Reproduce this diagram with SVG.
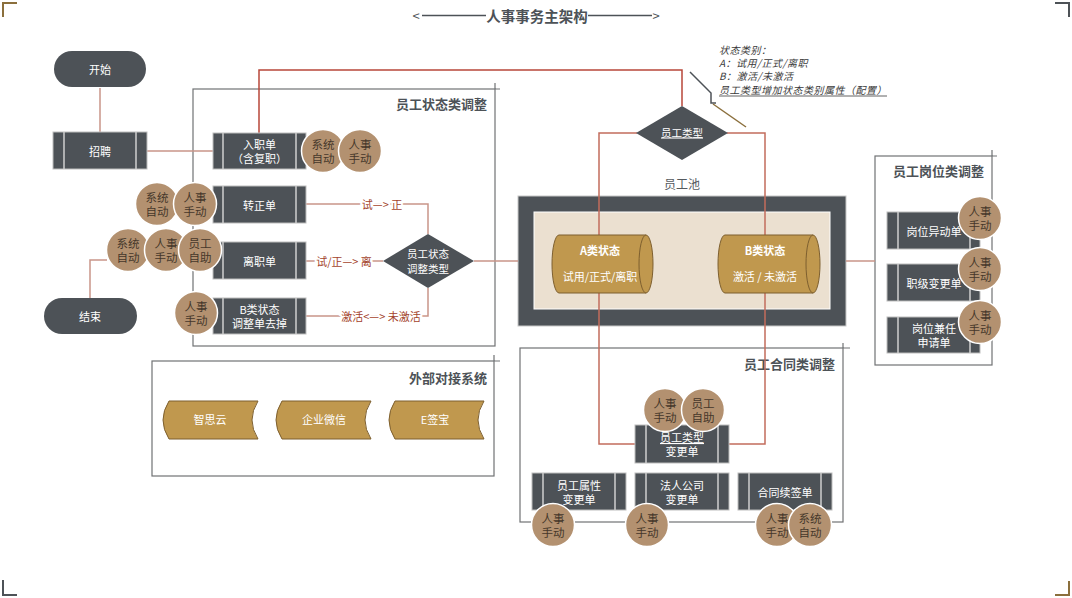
<svg xmlns="http://www.w3.org/2000/svg" width="1072" height="598" viewBox="0 0 1072 598">
  <defs>
    <style>
      text { font-family: "Noto Sans CJK SC", "Liberation Sans", sans-serif; }
      .frame { fill: none; stroke: #707274; stroke-width: 1.2; }
      .gtitle { font-size: 13px; font-weight: bold; fill: #4d5257; text-anchor: end; }
      .box rect { fill: #4d5257; stroke: #bdbdbd; stroke-width: 1; }
      .box line { stroke: #c8c8c8; stroke-width: 1.6; }
      .box text, .dia text, .pill text { font-size: 11px; fill: #ffffff; text-anchor: middle; dominant-baseline: central; }
      .dia text { font-size: 10.5px; }
      .pill rect, .dia polygon { fill: #4d5257; }
      .tag circle { fill: #b39170; stroke: #ffffff; stroke-width: 1.5; }
      .tag text { font-size: 11.5px; fill: #45372a; text-anchor: middle; dominant-baseline: central; }
      .conn { fill: none; stroke: #c99589; stroke-width: 1.5; }
      .conn-red { fill: none; stroke: #b8473a; stroke-width: 1.5; }
      .conn-mid { fill: none; stroke: #c26c5c; stroke-width: 1.5; }
      .elabel { font-size: 11px; fill: #a3432c; text-anchor: middle; dominant-baseline: central; paint-order: stroke; stroke: #ffffff; stroke-width: 4px; }
      .cyl path { fill: #c0984e; stroke: #7d5f2f; stroke-width: 1; }
      .cyl text { fill: #ffffff; text-anchor: middle; dominant-baseline: central; font-size: 11px; }
      .ext path { fill: #c0984e; stroke: #7d5f2f; stroke-width: 1; }
      .ext text { fill: #ffffff; text-anchor: middle; dominant-baseline: central; font-size: 11px; }
      .note { font-size: 10px; font-style: italic; fill: #3a3a3a; letter-spacing: 0.5px; }
    </style>
  </defs>

  <rect width="1072" height="598" fill="#ffffff"/>

  <!-- corner marks -->
  <g fill="none" stroke-width="2">
    <path d="M3 17 V3 H17" stroke="#8b6f3c"/>
    <path d="M1055 3 H1069 V17" stroke="#4d5257"/>
    <path d="M3 580 V595 H17" stroke="#4d5257"/>
    <path d="M1055 595 H1069 V581" stroke="#8b6f3c"/>
  </g>

  <!-- title -->
  <g id="title" fill="#4d5257">
    <text x="416" y="15" font-size="13" text-anchor="middle" dominant-baseline="central">&lt;</text>
    <line x1="422" y1="15.5" x2="486" y2="15.5" stroke="#4d5257" stroke-width="1.6"/>
    <text x="537" y="15" font-size="14.5" font-weight="bold" text-anchor="middle" dominant-baseline="central">人事事务主架构</text>
    <line x1="588" y1="15.5" x2="652" y2="15.5" stroke="#4d5257" stroke-width="1.6"/>
    <text x="656" y="15" font-size="13" text-anchor="middle" dominant-baseline="central">&gt;</text>
  </g>

  <!-- group frames -->
  <g id="grp-status">
    <rect class="frame" x="193" y="89" width="302" height="257"/>
    <path class="frame" d="M495 89 H500 M495 89 V83"/>
    <text class="gtitle" x="487" y="103" dominant-baseline="central">员工状态类调整</text>
  </g>
  <g id="grp-position">
    <rect class="frame" x="875" y="156" width="117" height="209"/>
    <path class="frame" d="M992 156 H997 M992 156 V150"/>
    <text class="gtitle" x="984" y="170" dominant-baseline="central">员工岗位类调整</text>
  </g>
  <g id="grp-external">
    <rect class="frame" x="152" y="361" width="342" height="115"/>
    <path class="frame" d="M494 361 H500 M494 361 V355"/>
    <text class="gtitle" x="487" y="377" dominant-baseline="central">外部对接系统</text>
  </g>
  <g id="grp-contract">
    <rect class="frame" x="520" y="348" width="323" height="174"/>
    <path class="frame" d="M843 348 H850 M843 348 V343"/>
    <text class="gtitle" x="835" y="363" dominant-baseline="central">员工合同类调整</text>
  </g>

  <!-- employee pool frame -->
  <g id="pool">
    <text x="682" y="183" font-size="12" fill="#555a5e" text-anchor="middle" dominant-baseline="central">员工池</text>
    <rect x="518" y="196" width="328" height="130" fill="#4d5257" stroke="#c8c8c8" stroke-width="1"/>
    <rect x="534" y="212" width="296" height="97" fill="#ebe0d0" stroke="#ffffff" stroke-width="1"/>
  </g>

  <!-- annotation -->
  <g id="note">
    <text class="note" x="719" y="54">状态类别：</text>
    <text class="note" x="719" y="67">A：试用/正式/离职</text>
    <text class="note" x="719" y="80">B：激活/未激活</text>
    <text class="note" x="719" y="94">员工类型增加状态类别属性（配置）</text>
    <line x1="719" y1="96" x2="887" y2="96" stroke="#3a3a3a" stroke-width="0.8"/>
    <path d="M690 72 L711 93 V103 H716" fill="none" stroke="#4d5257" stroke-width="1.5"/>
    <path d="M713 104 L746 127" fill="none" stroke="#8b6f3c" stroke-width="1.5"/>
  </g>

  <!-- connectors -->
  <g id="connectors">
    <path class="conn" d="M100 88 V132"/>
    <path class="conn" d="M147 151 H213"/>
    <path class="conn-red" d="M259 133 V70 H682 V106"/>
    <path class="conn-mid" d="M637 133 H599 V444 H635"/>
    <path class="conn-mid" d="M727 133 H765 V444 H729"/>
    <path class="conn" d="M306 204 H428 V234"/>
    <path class="conn" d="M306 261 H383"/>
    <path class="conn" d="M306 316 H428 V288"/>
    <path class="conn" d="M474 261 H518"/>
    <path class="conn" d="M846 261 H875"/>
    <path class="conn" d="M90 298 V260 H107"/>
    <text class="elabel" x="382" y="204">试—&gt; 正</text>
    <text class="elabel" x="344" y="261">试/正—&gt; 离</text>
    <text class="elabel" x="381" y="316">激活&lt;—&gt; 未激活</text>
  </g>

  <!-- terminators -->
  <g id="start" class="pill">
    <rect x="54" y="51" width="92" height="36" rx="18"/>
    <text x="100" y="69">开始</text>
  </g>
  <g id="end" class="pill">
    <rect x="44" y="298" width="93" height="36" rx="18"/>
    <text x="90" y="316">结束</text>
  </g>

  <!-- process boxes -->
  <g id="recruit" class="box">
    <rect x="53" y="132" width="94" height="37"/>
    <line x1="64" y1="132" x2="64" y2="169"/><line x1="136" y1="132" x2="136" y2="169"/>
    <text x="100" y="151">招聘</text>
  </g>
  <g id="onboard" class="box">
    <rect x="213" y="133" width="93" height="36"/>
    <line x1="223" y1="133" x2="223" y2="169"/><line x1="296" y1="133" x2="296" y2="169"/>
    <text x="259.5" y="144">入职单</text>
    <text x="259.5" y="158">（含复职）</text>
  </g>
  <g id="regular" class="box">
    <rect x="213" y="186" width="93" height="37"/>
    <line x1="223" y1="186" x2="223" y2="223"/><line x1="296" y1="186" x2="296" y2="223"/>
    <text x="259.5" y="204.5">转正单</text>
  </g>
  <g id="leave" class="box">
    <rect x="213" y="242" width="93" height="37"/>
    <line x1="223" y1="242" x2="223" y2="279"/><line x1="296" y1="242" x2="296" y2="279"/>
    <text x="259.5" y="260.5">离职单</text>
  </g>
  <g id="b-status" class="box">
    <rect x="213" y="298" width="93" height="36"/>
    <line x1="223" y1="298" x2="223" y2="334"/><line x1="296" y1="298" x2="296" y2="334"/>
    <text x="259.5" y="309">B类状态</text>
    <text x="259.5" y="323">调整单去掉</text>
  </g>

  <!-- decisions -->
  <g id="status-type" class="dia">
    <polygon points="428,234 474,261 428,288 383,261"/>
    <text x="428" y="253.5">员工状态</text>
    <text x="428" y="268">调整类型</text>
  </g>
  <g id="emp-type" class="dia">
    <polygon points="682,106 728,133 682,160 636,133"/>
    <text x="682" y="132" text-decoration="underline">员工类型</text>
  </g>

  <!-- state cylinders -->
  <g id="state-a" class="cyl">
    <path d="M559 235 H646 A7 29 0 0 1 646 293 H559 A7 29 0 0 1 559 235 Z"/>
    <path d="M646 235 A7 29 0 0 0 646 293" fill="none"/>
    <text x="600" y="250" font-weight="bold">A类状态</text>
    <text x="600" y="276">试用/正式/离职</text>
  </g>
  <g id="state-b" class="cyl">
    <path d="M725 235 H813 A7 29 0 0 1 813 293 H725 A7 29 0 0 1 725 235 Z"/>
    <path d="M813 235 A7 29 0 0 0 813 293" fill="none"/>
    <text x="765" y="250" font-weight="bold">B类状态</text>
    <text x="765" y="276">激活 / 未激活</text>
  </g>

  <!-- position boxes -->
  <g id="transfer" class="box">
    <rect x="887" y="212" width="93" height="37"/>
    <line x1="898" y1="212" x2="898" y2="249"/><line x1="970" y1="212" x2="970" y2="249"/>
    <text x="934" y="230.5">岗位异动单</text>
  </g>
  <g id="grade" class="box">
    <rect x="887" y="264" width="93" height="37"/>
    <line x1="898" y1="264" x2="898" y2="301"/><line x1="970" y1="264" x2="970" y2="301"/>
    <text x="934" y="282.5">职级变更单</text>
  </g>
  <g id="concurrent" class="box">
    <rect x="887" y="317" width="93" height="36"/>
    <line x1="898" y1="317" x2="898" y2="353"/><line x1="970" y1="317" x2="970" y2="353"/>
    <text x="934" y="328">岗位兼任</text>
    <text x="934" y="342">申请单</text>
  </g>

  <!-- contract boxes -->
  <g id="type-change" class="box">
    <rect x="635" y="425" width="94" height="38"/>
    <line x1="646" y1="425" x2="646" y2="463"/><line x1="718" y1="425" x2="718" y2="463"/>
    <text x="682" y="437" text-decoration="underline">员工类型</text>
    <text x="682" y="451">变更单</text>
  </g>
  <g id="attr-change" class="box">
    <rect x="532" y="473" width="94" height="37"/>
    <line x1="543" y1="473" x2="543" y2="510"/><line x1="615" y1="473" x2="615" y2="510"/>
    <text x="579" y="485">员工属性</text>
    <text x="579" y="499">变更单</text>
  </g>
  <g id="entity-change" class="box">
    <rect x="635" y="473" width="94" height="37"/>
    <line x1="646" y1="473" x2="646" y2="510"/><line x1="718" y1="473" x2="718" y2="510"/>
    <text x="682" y="485">法人公司</text>
    <text x="682" y="499">变更单</text>
  </g>
  <g id="renewal" class="box">
    <rect x="738" y="473" width="94" height="37"/>
    <line x1="749" y1="473" x2="749" y2="510"/><line x1="821" y1="473" x2="821" y2="510"/>
    <text x="785" y="491.5">合同续签单</text>
  </g>

  <!-- external systems -->
  <g id="zhisiyun" class="ext">
    <path d="M169 401 H258 Q246 420 258 439 H169 Q157 420 169 401 Z"/>
    <text x="210" y="419">智思云</text>
  </g>
  <g id="wecom" class="ext">
    <path d="M282 401 H371 Q359 420 371 439 H282 Q270 420 282 401 Z"/>
    <text x="324" y="419">企业微信</text>
  </g>
  <g id="esign" class="ext">
    <path d="M395 401 H484 Q472 420 484 439 H395 Q383 420 395 401 Z"/>
    <text x="435" y="419">E签宝</text>
  </g>

  <!-- handling tags -->
  <g id="tag-onboard-sys" class="tag"><circle cx="323" cy="151" r="21.5"/><text x="323" y="144">系统</text><text x="323" y="158">自动</text></g>
  <g id="tag-onboard-hr" class="tag"><circle cx="360" cy="151" r="21.5"/><text x="360" y="144">人事</text><text x="360" y="158">手动</text></g>

  <g id="tag-regular-sys" class="tag"><circle cx="157" cy="204" r="21.5"/><text x="157" y="197">系统</text><text x="157" y="211">自动</text></g>
  <g id="tag-regular-hr" class="tag"><circle cx="195" cy="204" r="21.5"/><text x="195" y="197">人事</text><text x="195" y="211">手动</text></g>

  <g id="tag-leave-sys" class="tag"><circle cx="128" cy="250" r="21.5"/><text x="128" y="243">系统</text><text x="128" y="257">自动</text></g>
  <g id="tag-leave-hr" class="tag"><circle cx="166" cy="250" r="21.5"/><text x="166" y="243">人事</text><text x="166" y="257">手动</text></g>
  <g id="tag-leave-self" class="tag"><circle cx="200" cy="250" r="21.5"/><text x="200" y="243">员工</text><text x="200" y="257">自助</text></g>

  <g id="tag-bstatus-hr" class="tag"><circle cx="196" cy="313" r="21.5"/><text x="196" y="306">人事</text><text x="196" y="320">手动</text></g>

  <g id="tag-transfer-hr" class="tag"><circle cx="980" cy="218" r="21.5"/><text x="980" y="211">人事</text><text x="980" y="225">手动</text></g>
  <g id="tag-grade-hr" class="tag"><circle cx="980" cy="269" r="21.5"/><text x="980" y="262">人事</text><text x="980" y="276">手动</text></g>
  <g id="tag-concurrent-hr" class="tag"><circle cx="980" cy="322" r="21.5"/><text x="980" y="315">人事</text><text x="980" y="329">手动</text></g>

  <g id="tag-type-hr" class="tag"><circle cx="665" cy="410" r="21.5"/><text x="665" y="403">人事</text><text x="665" y="417">手动</text></g>
  <g id="tag-type-self" class="tag"><circle cx="703" cy="410" r="21.5"/><text x="703" y="403">员工</text><text x="703" y="417">自助</text></g>

  <g id="tag-attr-hr" class="tag"><circle cx="553" cy="525" r="21.5"/><text x="553" y="518">人事</text><text x="553" y="532">手动</text></g>
  <g id="tag-entity-hr" class="tag"><circle cx="647" cy="525" r="21.5"/><text x="647" y="518">人事</text><text x="647" y="532">手动</text></g>
  <g id="tag-renewal-hr" class="tag"><circle cx="777" cy="525" r="21.5"/><text x="777" y="518">人事</text><text x="777" y="532">手动</text></g>
  <g id="tag-renewal-sys" class="tag"><circle cx="810" cy="525" r="21.5"/><text x="810" y="518">系统</text><text x="810" y="532">自动</text></g>
</svg>
